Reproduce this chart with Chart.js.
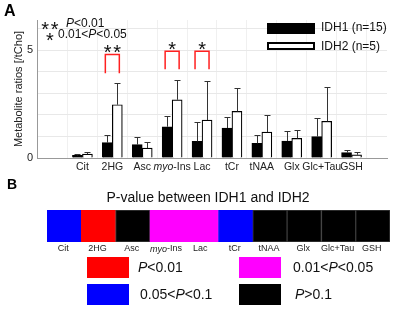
<!DOCTYPE html>
<html>
<head>
<meta charset="utf-8">
<script src="https://cdn.jsdelivr.net/npm/chart.js@4"></script>
<style>
  html, body { margin: 0; padding: 0; background: #fff; }
  #wrap { position: relative; width: 400px; height: 311px; }
  #chartA { position: absolute; left: 0; top: 0; }
  #chartB { position: absolute; left: 0; top: 175px; }
</style>
</head>
<body>
<div id="wrap">
  <canvas id="chartA" width="400" height="175"></canvas>
  <canvas id="chartB" width="400" height="136"></canvas>
</div>
<script>
// --- data ---
const categories = ['Cit', '2HG', 'Asc', 'myo-Ins', 'Lac', 'tCr', 'tNAA', 'Glx', 'Glc+Tau', 'GSH'];
const idh1Mean = [0.12, 0.71, 0.62, 1.45, 0.77, 1.39, 0.68, 0.79, 0.99, 0.25];
const idh1Sd   = [0.05, 0.35, 0.34, 0.48, 0.91, 0.49, 0.37, 0.45, 0.86, 0.13];
const idh2Mean = [0.18, 2.47, 0.46, 2.70, 1.76, 2.16, 1.20, 0.91, 1.70, 0.15];
const idh2Sd   = [0.11, 1.00, 0.29, 0.90, 1.80, 1.10, 0.78, 0.37, 1.59, 0.13];
const yTickValues = [0, 1, 2, 3, 4, 5, 6];
const yTickLabels = ['0', '', '', '', '', '5', ''];

// significance brackets
const sigCats   = ['2HG', 'myo-Ins', 'Lac'];
const sigStars  = ['**', '*', '*'];
const sigTop    = [4.80, 4.95, 4.95];
const sigBottom = [3.93, 4.12, 4.12];

// panel B: p-value class per metabolite (0: P<0.01, 1: 0.01<P<0.05, 2: 0.05<P<0.1, 3: P>0.1)
const pClass = [2, 0, 3, 1, 1, 2, 3, 3, 3, 3];
const pClassColors = ['#ff0000', '#ff00ff', '#0000ff', '#000000'];

const FONT = '"Liberation Sans", Arial, sans-serif';

function labelParts(label) {
  return label === 'myo-Ins' ? [['myo', true], ['-Ins', false]] : [[label, false]];
}

// draw text made of normal / italic pieces; align 'center' or 'left'
function drawMixed(ctx, parts, x, y, size, align) {
  let w = 0;
  parts.forEach(([t, it]) => {
    ctx.font = (it ? 'italic ' : '') + size + 'px ' + FONT;
    w += ctx.measureText(t).width;
  });
  let cx = align === 'center' ? x - w / 2 : x;
  ctx.textAlign = 'left';
  parts.forEach(([t, it]) => {
    ctx.font = (it ? 'italic ' : '') + size + 'px ' + FONT;
    ctx.fillText(t, cx, y);
    cx += ctx.measureText(t).width;
  });
}

// asterisks spaced out, centred on cx
function drawStars(ctx, stars, cx, baseline) {
  ctx.font = '20px ' + FONT;
  ctx.textAlign = 'center';
  ctx.textBaseline = 'alphabetic';
  const n = stars.length;
  for (let j = 0; j < n; j++) {
    ctx.fillText('*', cx + (j - (n - 1) / 2) * 9.5, baseline);
  }
}

const errorBars = {
  id: 'errorBars',
  afterDatasetsDraw(chart) {
    const { ctx, scales: { y } } = chart;
    const sds = [idh1Sd, idh2Sd];
    ctx.save();
    ctx.strokeStyle = '#333';
    ctx.lineWidth = 1;
    chart.data.datasets.forEach((ds, d) => {
      chart.getDatasetMeta(d).data.forEach((bar, i) => {
        const x = Math.round(bar.x) + 0.5;
        const top = Math.round(y.getPixelForValue(ds.data[i].y + sds[d][i])) + 0.5;
        ctx.beginPath();
        ctx.moveTo(x, bar.y);
        ctx.lineTo(x, top);
        ctx.moveTo(x - 3, top);
        ctx.lineTo(x + 3, top);
        ctx.stroke();
      });
    });
    ctx.restore();
  }
};

const panelADecor = {
  id: 'panelADecor',
  afterDraw(chart) {
    const { ctx, scales: { x, y } } = chart;
    ctx.save();
    ctx.fillStyle = '#222';
    ctx.textBaseline = 'middle';

    // category labels
    categories.forEach((c, i) => {
      drawMixed(ctx, labelParts(c), x.getPixelForValue(i + 1), 167, 10.5, 'center');
    });

    // brackets + stars
    sigCats.forEach((c, k) => {
      const cx = x.getPixelForValue(categories.indexOf(c) + 1);
      const t = y.getPixelForValue(sigTop[k]);
      const b = y.getPixelForValue(sigBottom[k]);
      ctx.strokeStyle = '#ff2020';
      ctx.lineWidth = 1.5;
      ctx.beginPath();
      ctx.moveTo(cx - 7, b);
      ctx.lineTo(cx - 7, t);
      ctx.lineTo(cx + 7, t);
      ctx.lineTo(cx + 7, b);
      ctx.stroke();
      ctx.fillStyle = '#111';
      drawStars(ctx, sigStars[k], cx, t + 4.5);
    });

    // star legend top-left
    ctx.fillStyle = '#111';
    drawStars(ctx, '**', 50, 35.5);
    drawStars(ctx, '*', 50, 46.5);
    ctx.textBaseline = 'middle';
    drawMixed(ctx, [['P', true], ['<0.01', false]], 66, 24, 12, 'left');
    drawMixed(ctx, [['0.01<', false], ['P', true], ['<0.05', false]], 58, 35, 12, 'left');

    // series legend
    ctx.fillStyle = '#000';
    ctx.fillRect(267, 23, 48, 11);
    ctx.fillStyle = '#fff';
    ctx.fillRect(268, 43, 46, 6);
    ctx.strokeStyle = '#000';
    ctx.lineWidth = 2;
    ctx.strokeRect(268, 43, 46, 6);
    ctx.fillStyle = '#111';
    ctx.font = '12px ' + FONT;
    ctx.textAlign = 'left';
    ctx.fillText(chart.data.datasets[0].label, 321, 28);
    ctx.fillText(chart.data.datasets[1].label, 321, 47);

    // panel letter
    ctx.font = 'bold 16px ' + FONT;
    ctx.fillStyle = '#000';
    ctx.fillText('A', 4, 12);
    ctx.restore();
  }
};

new Chart(document.getElementById('chartA'), {
  type: 'bar',
  data: {
    datasets: [{
      label: 'IDH1 (n=15)',
      data: idh1Mean.map((v, i) => ({ x: i + 1, y: v })),
      backgroundColor: '#000',
      borderColor: '#000',
      borderWidth: 1
    }, {
      label: 'IDH2 (n=5)',
      data: idh2Mean.map((v, i) => ({ x: i + 1, y: v })),
      backgroundColor: '#fff',
      borderColor: '#000',
      borderWidth: 1.2
    }]
  },
  options: {
    responsive: false,
    animation: false,
    events: [],
    barThickness: 10,
    layout: { padding: { left: 0, right: 13, top: 20, bottom: 0 } },
    plugins: { legend: { display: false }, tooltip: { enabled: false } },
    scales: {
      x: {
        type: 'linear',
        min: 0.066,
        max: 10.6,
        afterBuildTicks: s => { s.ticks = categories.map((c, i) => ({ value: i + 1 })); },
        afterFit: s => { s.height = 17; },
        ticks: { display: false },
        grid: { color: '#f0f0f0', drawTicks: false },
        border: { color: '#999' }
      },
      y: {
        min: 0,
        max: 6.4,
        afterBuildTicks: s => { s.ticks = yTickValues.map(v => ({ value: v })); },
        afterFit: s => { s.width = 37; },
        ticks: {
          padding: 4,
          color: '#222',
          font: { family: FONT, size: 11 },
          callback: (v) => yTickLabels[yTickValues.indexOf(v)]
        },
        grid: {
          drawTicks: false,
          color: c => c.tick && c.tick.value === 0 ? 'rgba(0,0,0,0)' : '#e8e8e8'
        },
        border: { color: '#999' },
        title: {
          display: true,
          text: 'Metabolite ratios [/tCho]',
          color: '#222',
          font: { family: FONT, size: 11 },
          padding: { top: 12, bottom: 0 }
        }
      }
    }
  },
  plugins: [errorBars, panelADecor]
});

// ---------- panel B ----------
const panelBDecor = {
  id: 'panelBDecor',
  afterDraw(chart) {
    const { ctx, scales: { x } } = chart;
    ctx.save();
    ctx.fillStyle = '#222';
    ctx.textBaseline = 'middle';
    categories.forEach((c, i) => {
      drawMixed(ctx, labelParts(c), x.getPixelForValue(i) - 1, 74, 9, 'center');
    });

    ctx.fillStyle = '#111';
    ctx.font = '14px ' + FONT;
    ctx.textAlign = 'center';
    ctx.fillText('P-value between IDH1 and IDH2', 208, 23);

    // legend
    const legendItems = [
      [[['P', true], ['<0.01', false]], 87, 82, 138],
      [[['0.01<', false], ['P', true], ['<0.05', false]], 239, 82, 293],
      [[['0.05<', false], ['P', true], ['<0.1', false]], 87, 109, 140],
      [[['P', true], ['>0.1', false]], 239, 109, 295]
    ];
    legendItems.forEach(([parts, bx, by, tx], k) => {
      ctx.fillStyle = pClassColors[k];
      ctx.fillRect(bx, by, 42, 21);
      ctx.fillStyle = '#111';
      drawMixed(ctx, parts, tx, by + 11, 14, 'left');
    });

    ctx.fillStyle = '#000';
    ctx.font = 'bold 14px ' + FONT;
    ctx.textAlign = 'left';
    ctx.fillText('B', 7, 10);
    ctx.restore();
  }
};

new Chart(document.getElementById('chartB'), {
  type: 'bar',
  data: {
    labels: categories,
    datasets: [{
      data: categories.map(() => 1),
      backgroundColor: pClass.map(k => pClassColors[k]),
      borderColor: pClass.map(k => k === 3 ? '#3a3a3a' : pClassColors[k]),
      borderWidth: 1,
      borderSkipped: false,
      barPercentage: 1,
      categoryPercentage: 1
    }]
  },
  options: {
    responsive: false,
    animation: false,
    events: [],
    layout: { padding: { left: 47, right: 10, top: 35, bottom: 0 } },
    plugins: { legend: { display: false }, tooltip: { enabled: false } },
    scales: {
      x: {
        offset: true,
        afterFit: s => { s.height = 69; },
        ticks: { display: false },
        grid: { display: false },
        border: { display: false }
      },
      y: { display: false, min: 0, max: 1 }
    }
  },
  plugins: [panelBDecor]
});
</script>
</body>
</html>
